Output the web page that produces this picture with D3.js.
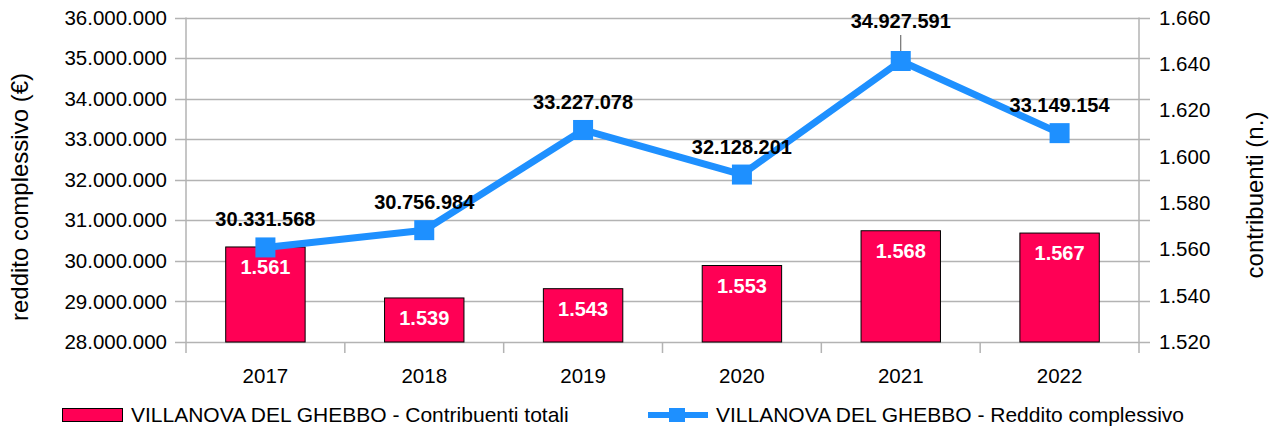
<!DOCTYPE html>
<html>
<head>
<meta charset="utf-8">
<script src="https://cdn.jsdelivr.net/npm/d3@7"></script>
<style>
  html, body { margin: 0; padding: 0; background: #fff; }
  svg { display: block; font-family: "Liberation Sans", Arial, sans-serif; }
</style>
</head>
<body>
<svg id="chart" width="1277" height="428"></svg>
<script>
// ── Data ──────────────────────────────────────────────────────────────────
const years = ['2017', '2018', '2019', '2020', '2021', '2022'];
const contribuenti = [1561, 1539, 1543, 1553, 1568, 1567];
const reddito = [30331568, 30756984, 33227078, 32128201, 34927591, 33149154];
const leftTicks = [28e6, 29e6, 30e6, 31e6, 32e6, 33e6, 34e6, 35e6, 36e6];
const rightTicks = [1520, 1540, 1560, 1580, 1600, 1620, 1640, 1660];
const legendLabels = [
  'VILLANOVA DEL GHEBBO - Contribuenti totali',
  'VILLANOVA DEL GHEBBO - Reddito complessivo',
];

const BAR = '#ff0055';
const LINE = '#1e90ff';
const GRID = '#b3b3b3';

const it = d3.formatLocale({ decimal: ',', thousands: '.', grouping: [3], currency: ['', '€'] });
const fmt = it.format(',d');

const svg = d3.select('#chart');
const m = { left: 186, right: 138, top: 17.5, bottom: 86 };
const W = 1277, H = 428;
const x0 = m.left, x1 = W - m.right, y0 = H - m.bottom, y1 = m.top;

const x = d3.scaleBand().domain(years).range([x0, x1]);
const yL = d3.scaleLinear().domain([28e6, 36e6]).range([y0, y1]);
const yR = d3.scaleLinear().domain([1520, 1660]).range([y0, y1]);

// ── Grid ──────────────────────────────────────────────────────────────────
svg.append('g').selectAll('line').data(leftTicks).join('line')
  .attr('x1', x0 - 11).attr('x2', x1 + 11)
  .attr('y1', d => Math.round(yL(d)) + 0.5).attr('y2', d => Math.round(yL(d)) + 0.5)
  .attr('stroke', GRID).attr('stroke-width', 1.5);

// axis lines
const axes = svg.append('g').attr('stroke', GRID).attr('stroke-width', 1.5);
axes.append('line').attr('x1', x0).attr('x2', x0).attr('y1', y1).attr('y2', y0 + 11);
axes.append('line').attr('x1', x1).attr('x2', x1).attr('y1', y1).attr('y2', y0 + 11);
axes.selectAll('line.xt').data(years.slice(1)).join('line').attr('class', 'xt')
  .attr('x1', d => x(d)).attr('x2', d => x(d)).attr('y1', y0).attr('y2', y0 + 11);

// ── Bars ──────────────────────────────────────────────────────────────────
const bw = x.bandwidth() * 0.5;
svg.append('g').selectAll('rect').data(years).join('rect')
  .attr('x', d => x(d) + (x.bandwidth() - bw) / 2)
  .attr('y', (d, i) => yR(contribuenti[i]))
  .attr('width', bw)
  .attr('height', (d, i) => y0 - yR(contribuenti[i]))
  .attr('fill', BAR).attr('stroke', '#000').attr('stroke-width', 1);

svg.append('g').selectAll('text').data(years).join('text')
  .attr('x', d => x(d) + x.bandwidth() / 2)
  .attr('y', (d, i) => yR(contribuenti[i]) + 27)
  .attr('text-anchor', 'middle').attr('fill', '#fff')
  .attr('font-size', 20).attr('font-weight', 'bold')
  .text((d, i) => fmt(contribuenti[i]));

// ── Line ──────────────────────────────────────────────────────────────────
const pts = years.map((d, i) => [x(d) + x.bandwidth() / 2, yL(reddito[i])]);
svg.append('path').datum(pts)
  .attr('d', d3.line())
  .attr('fill', 'none').attr('stroke', LINE).attr('stroke-width', 7)
  .attr('stroke-linejoin', 'round');

svg.append('g').selectAll('rect').data(pts).join('rect')
  .attr('x', d => d[0] - 10).attr('y', d => d[1] - 10)
  .attr('width', 20).attr('height', 20).attr('fill', LINE);

// value labels, nudged upward with a leader line when crowding the top
const lab = svg.append('g');
pts.forEach((p, i) => {
  let by = p[1] - 21;
  if (by < 45) {
    by = 28;
    lab.append('line').attr('x1', p[0]).attr('x2', p[0])
      .attr('y1', by + 7).attr('y2', p[1] - 10)
      .attr('stroke', '#555').attr('stroke-width', 1);
  }
  lab.append('text')
    .attr('x', p[0]).attr('y', by)
    .attr('text-anchor', 'middle').attr('fill', '#000')
    .attr('font-size', 20).attr('font-weight', 'bold')
    .text(fmt(reddito[i]));
});

// ── Tick labels ───────────────────────────────────────────────────────────
svg.append('g').selectAll('text').data(leftTicks).join('text')
  .attr('x', x0 - 19).attr('y', d => yL(d)).attr('dy', '0.35em')
  .attr('text-anchor', 'end').attr('font-size', 20.5).attr('fill', '#000')
  .text(d => fmt(d));

svg.append('g').selectAll('text').data(rightTicks).join('text')
  .attr('x', x1 + 20).attr('y', d => yR(d)).attr('dy', '0.35em')
  .attr('text-anchor', 'start').attr('font-size', 20.5).attr('fill', '#000')
  .text(d => fmt(d));

svg.append('g').selectAll('text').data(years).join('text')
  .attr('x', d => x(d) + x.bandwidth() / 2).attr('y', y0 + 41)
  .attr('text-anchor', 'middle').attr('font-size', 20.5).attr('fill', '#000')
  .text(d => d);

// axis titles
svg.append('text')
  .attr('transform', 'translate(28,197) rotate(-90)')
  .attr('text-anchor', 'middle').attr('font-size', 24).attr('fill', '#000')
  .text('reddito complessivo (€)');
svg.append('text')
  .attr('transform', 'translate(1263,195) rotate(-90)')
  .attr('text-anchor', 'middle').attr('font-size', 24).attr('fill', '#000')
  .text('contribuenti (n.)');

// ── Legend ────────────────────────────────────────────────────────────────
const lg = svg.append('g');
lg.append('rect').attr('x', 62.5).attr('y', 408.5).attr('width', 60).attr('height', 13)
  .attr('fill', BAR).attr('stroke', '#000').attr('stroke-width', 1);
lg.append('text').attr('x', 131).attr('y', 415).attr('dy', '0.35em')
  .attr('font-size', 21).attr('fill', '#000').text(legendLabels[0]);

lg.append('line').attr('x1', 648).attr('x2', 708).attr('y1', 415).attr('y2', 415)
  .attr('stroke', LINE).attr('stroke-width', 6);
lg.append('rect').attr('x', 669).attr('y', 408).attr('width', 16).attr('height', 14)
  .attr('fill', LINE);
lg.append('text').attr('x', 716).attr('y', 415).attr('dy', '0.35em')
  .attr('font-size', 21).attr('fill', '#000').text(legendLabels[1]);
</script>
</body>
</html>
